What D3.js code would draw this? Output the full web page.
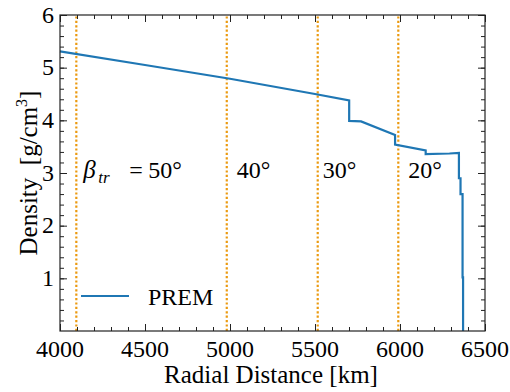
<!DOCTYPE html>
<html>
<head>
<meta charset="utf-8">
<script src="https://cdn.jsdelivr.net/npm/d3@7"></script>
<style>
    body { margin: 0; background: #fff; }
</style>
</head>
<body>
<div id="chart"></div>
<script>
// PREM density profile
const radius = [4000, 4500, 5000, 5500, 5701, 5701, 5771, 5971, 5971, 6151, 6151, 6291, 6346.6, 6346.6, 6356, 6356, 6368, 6368, 6371, 6371];
const density = [5.31, 5.05, 4.79, 4.50, 4.38, 3.99, 3.98, 3.72, 3.54, 3.43, 3.36, 3.37, 3.38, 2.90, 2.90, 2.60, 2.60, 1.02, 1.02, 0];

// transition radii (dotted lines) and their labels
const transRadius = [4096, 4981, 5516, 5990];
const transLabel = ["50°", "40°", "30°", "20°"];

const xTicks = [4000, 4500, 5000, 5500, 6000, 6500];
const yTicks = [1, 2, 3, 4, 5, 6];

const width = 510;
const height = 392;
const margin = { top: 15, left: 60, right: 25, bottom: 61 };

const svg = d3.select("#chart")
    .append("svg")
    .attr("width", width)
    .attr("height", height)
    .attr("font-family", "Liberation Serif");

const xScale = d3.scaleLinear()
    .domain([4000, 6500])
    .range([margin.left, width - margin.right]);

const yScale = d3.scaleLinear()
    .domain([0, 6])
    .range([height - margin.bottom, margin.top]);

const x0 = margin.left, x1 = width - margin.right;
const y0 = height - margin.bottom, y1 = margin.top;

/*
DOTTED TRANSITION LINES
*/
svg.selectAll(".trans")
    .data(transRadius)
    .enter()
    .append("line")
    .attr("class", "trans")
    .attr("x1", d => xScale(d))
    .attr("x2", d => xScale(d))
    .attr("y1", y0)
    .attr("y2", y1)
    .attr("stroke", "#eb9a10")
    .attr("stroke-width", 2.2)
    .attr("stroke-dasharray", "2.2,2.2");

/*
DENSITY LINE
*/
const line = d3.line()
    .x((d, i) => xScale(radius[i]))
    .y(d => yScale(d));

svg.append("path")
    .datum(density)
    .attr("d", line)
    .attr("fill", "none")
    .attr("stroke", "#1f77b4")
    .attr("stroke-width", 2.2);

/*
AXES (ticks inward on all four sides)
*/
function frame(axis, transform, major, minor) {
    svg.append("g")
        .attr("transform", transform)
        .call(axis.tickValues(minor).tickSize(4).tickFormat(""))
        .call(g => g.select(".domain").remove());
    svg.append("g")
        .attr("transform", transform)
        .call(axis.tickValues(major).tickSize(7).tickFormat(""))
        .call(g => g.select(".domain").remove());
}

const xMinor = d3.range(4100, 6500, 100);
const yMinor = d3.range(0.2, 6, 0.2);

frame(d3.axisTop(xScale), `translate(0,${y0})`, xTicks, xMinor);
frame(d3.axisBottom(xScale), `translate(0,${y1})`, xTicks, xMinor);
frame(d3.axisRight(yScale), `translate(${x0},0)`, yTicks, yMinor);
frame(d3.axisLeft(yScale), `translate(${x1},0)`, yTicks, yMinor);

svg.selectAll(".tick line").attr("stroke", "#222").attr("stroke-width", 1);

svg.append("rect")
    .attr("x", x0)
    .attr("y", y1)
    .attr("width", x1 - x0)
    .attr("height", y0 - y1)
    .attr("fill", "none")
    .attr("stroke", "#222")
    .attr("stroke-width", 1.2);

// tick labels
svg.selectAll(".xlab")
    .data(xTicks)
    .enter()
    .append("text")
    .attr("x", d => xScale(d))
    .attr("y", y0 + 26)
    .attr("text-anchor", "middle")
    .attr("font-size", 24)
    .text(d => d);

svg.selectAll(".ylab")
    .data(yTicks)
    .enter()
    .append("text")
    .attr("x", x0 - 6)
    .attr("y", d => yScale(d) + 7.5)
    .attr("text-anchor", "end")
    .attr("font-size", 24)
    .text(d => d);

/*
AXIS LABELS
*/
svg.append("text")
    .attr("x", 271)
    .attr("y", 383)
    .attr("text-anchor", "middle")
    .attr("font-size", 25)
    .text("Radial Distance [km]");

const yl = svg.append("text")
    .attr("transform", `translate(37,173) rotate(-90)`)
    .attr("text-anchor", "middle")
    .attr("font-size", 25);
yl.append("tspan").text("Density\u2002[g/cm");
yl.append("tspan").attr("font-size", 16).attr("dy", -10).text("3");
yl.append("tspan").attr("dy", 10).text("]");

/*
TRANSITION LABELS
*/
const labY = yScale(3) + 5;
const bx = xScale(transRadius[0]);
svg.append("text")
    .attr("x", bx + 7)
    .attr("y", labY)
    .attr("font-size", 25)
    .attr("font-style", "italic")
    .text("β");
svg.append("text")
    .attr("x", bx + 22)
    .attr("y", labY + 5)
    .attr("font-size", 17)
    .attr("font-style", "italic")
    .text("tr");
svg.append("text")
    .attr("x", bx + 53)
    .attr("y", labY)
    .attr("font-size", 24)
    .text("=");
svg.append("text")
    .attr("x", bx + 72)
    .attr("y", labY)
    .attr("font-size", 24)
    .text(transLabel[0]);

svg.selectAll(".tlab")
    .data(transLabel.slice(1))
    .enter()
    .append("text")
    .attr("x", (d, i) => xScale(transRadius[i + 1]) + (i == 1 ? 5 : 10))
    .attr("y", labY)
    .attr("font-size", 24)
    .text(d => d);

/*
LEGEND
*/
svg.append("line")
    .attr("x1", 81)
    .attr("x2", 129)
    .attr("y1", 296)
    .attr("y2", 296)
    .attr("stroke", "#1f77b4")
    .attr("stroke-width", 2.2);

svg.append("text")
    .attr("x", 148)
    .attr("y", 305)
    .attr("font-size", 24)
    .text("PREM");
</script>
</body>
</html>
